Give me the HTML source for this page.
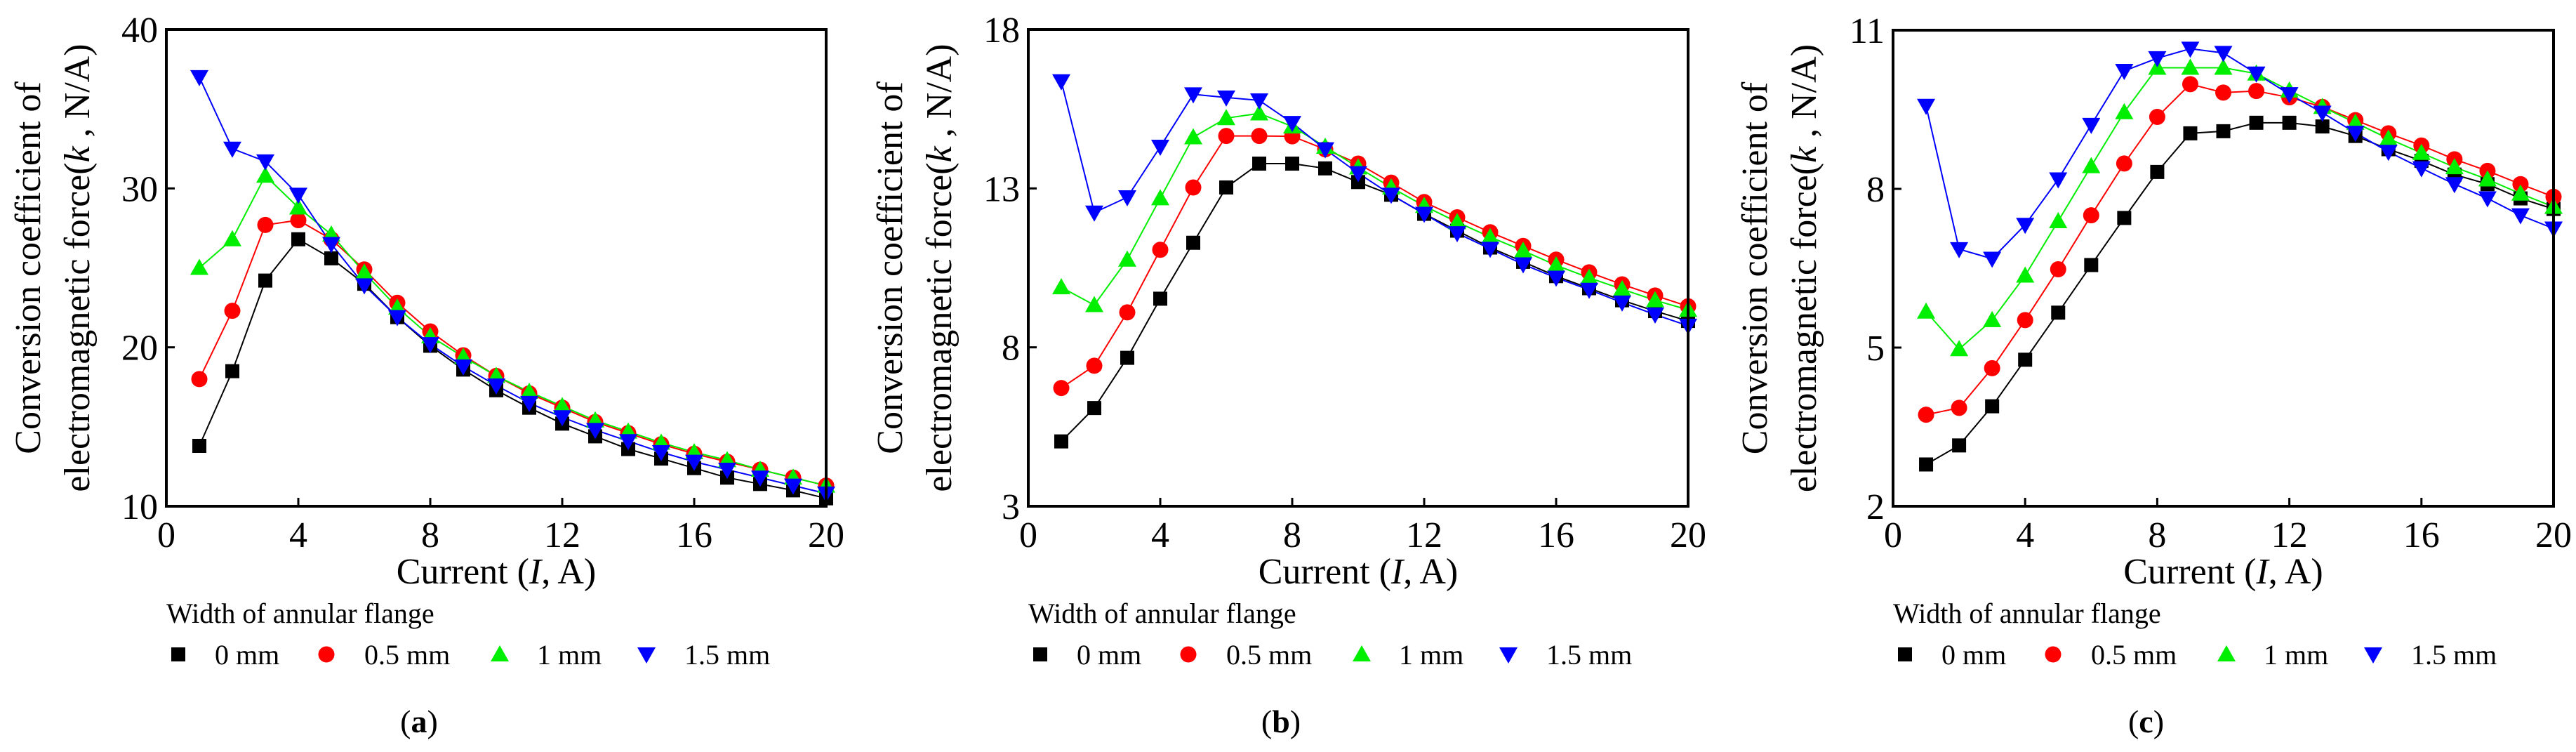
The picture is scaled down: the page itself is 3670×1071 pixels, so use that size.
<!DOCTYPE html>
<html><head><meta charset="utf-8">
<style>
html,body{margin:0;padding:0;background:#fff;}
svg{display:block;}
svg text{font-family:"Liberation Serif","Times New Roman",serif;}
</style></head>
<body>
<svg id="fig" width="3670" height="1071" viewBox="0 0 3670 1071" xmlns="http://www.w3.org/2000/svg" font-family="Liberation Serif, serif"></svg>
<script>
const xValues = [1,2,3,4,5,6,7,8,9,10,11,12,13,14,15,16,17,18,19,20];
const seriesNames = ["0 mm","0.5 mm","1 mm","1.5 mm"];
const xTickLabels = [0,4,8,12,16,20];

const aBlack = [13.8,18.5,24.2,26.8,25.6,24.0,21.9,20.1,18.6,17.3,16.2,15.2,14.4,13.6,13.0,12.4,11.8,11.4,11.0,10.5];
const aRed   = [18.0,22.3,27.7,28.0,26.8,24.9,22.8,21.0,19.5,18.2,17.1,16.2,15.3,14.6,13.9,13.3,12.8,12.3,11.8,11.3];
const aGreen = [25.0,26.8,30.8,28.8,27.1,24.7,22.5,20.7,19.4,18.2,17.2,16.3,15.4,14.7,14.0,13.4,12.9,12.3,11.8,11.3];
const aBlue  = [37.0,32.5,31.7,29.6,26.5,23.9,21.9,20.2,18.8,17.6,16.5,15.6,14.8,14.1,13.4,12.8,12.3,11.8,11.3,10.8];
const aYTicks = [10,20,30,40];

const bBlack = [5.04,6.09,7.67,9.53,11.29,13.03,13.78,13.78,13.63,13.2,12.8,12.2,11.67,11.14,10.69,10.24,9.86,9.48,9.14,8.83];
const bRed   = [6.72,7.42,9.1,11.07,13.03,14.65,14.65,14.64,14.23,13.78,13.18,12.57,12.09,11.62,11.19,10.76,10.36,9.98,9.63,9.29];
const bGreen = [9.89,9.33,10.76,12.69,14.61,15.21,15.36,14.95,14.31,13.66,13.03,12.45,11.94,11.47,11.04,10.58,10.19,9.83,9.48,9.18];
const bBlue  = [16.37,12.24,12.72,14.31,15.96,15.86,15.77,15.06,14.23,13.48,12.8,12.2,11.59,11.1,10.61,10.19,9.81,9.41,9.03,8.68];
const bYTicks = [3,8,13,18];

const cBlack = [2.79,3.15,3.89,4.77,5.66,6.56,7.45,8.32,9.05,9.09,9.25,9.25,9.18,9.0,8.75,8.53,8.27,8.09,7.82,7.62];
const cRed   = [3.73,3.86,4.61,5.52,6.48,7.5,8.48,9.36,9.98,9.82,9.85,9.73,9.55,9.3,9.05,8.82,8.56,8.34,8.09,7.85];
const cGreen = [5.68,4.97,5.52,6.36,7.39,8.43,9.45,10.29,10.29,10.29,10.18,9.86,9.55,9.25,8.95,8.68,8.41,8.18,7.91,7.66];
const cBlue  = [9.57,6.86,6.68,7.32,8.18,9.21,10.23,10.47,10.65,10.57,10.18,9.79,9.44,9.06,8.7,8.39,8.09,7.82,7.5,7.25];
const cYTicks = [2,5,8,11];

const NS="http://www.w3.org/2000/svg";
const svg=document.getElementById('fig');
const colors=["#000000","#ff0000","#00ee00","#0000ff"];
function mk(tag,attrs,parent){const e=document.createElementNS(NS,tag);for(const k in attrs)e.setAttribute(k,attrs[k]);(parent||svg).appendChild(e);return e;}
function marker(g,kind,x,y,col){
  let e;
  if(kind===0){e=mk('rect',{x:x-10,y:y-10,width:20,height:20,fill:col},g);}
  else if(kind===1){e=mk('circle',{cx:x,cy:y,r:11.5,fill:col},g);}
  else if(kind===2){e=mk('polygon',{points:`${x},${y-13} ${x-13},${y+10} ${x+13},${y+10}`,fill:col},g);}
  else {e=mk('polygon',{points:`${x},${y+13} ${x-13},${y-10} ${x+13},${y-10}`,fill:col},g);}
  return e;
}
const convAdj=110;
function panel(id,left,right,top,bottom,yTicks,series,letter){
  const g=mk('g',{});
  
  
  const ymin=yTicks[0],ymax=yTicks[yTicks.length-1];
  const sx=v=>left+(v-0)/(20-0)*(right-left);
  const sy=v=>bottom-(v-ymin)/(ymax-ymin)*(bottom-top);
  series.forEach((arr,si)=>{
    const sg=mk('g',{},g);
    
    
    const pts=arr.map((v,i)=>sx(xValues[i])+','+sy(v)).join(' ');
    const pl=mk('polyline',{points:pts,fill:'none',stroke:colors[si],'stroke-width':2},sg);
    
    
  });
  series.forEach((arr,si)=>{
    arr.forEach((v,i)=>{
      const m=marker(g,si,sx(xValues[i]),sy(v),colors[si]);
      
      
    });
  });
  const fr=mk('rect',{x:left,y:top,width:right-left,height:bottom-top,fill:'none',stroke:'#000','stroke-width':4},g);
  
  
  xTickLabels.forEach(t=>{
    const x=sx(t);
    mk('line',{x1:x,y1:bottom,x2:x,y2:bottom-12,stroke:'#000','stroke-width':3},g);
    const tx=mk('text',{x:x,y:bottom+58,'font-size':52,'text-anchor':'middle'},g);
    tx.textContent=t;
    
    
  });
  yTicks.forEach(t=>{
    const y=sy(t);
    mk('line',{x1:left,y1:y,x2:left+12,y2:y,stroke:'#000','stroke-width':3},g);
    const tx=mk('text',{x:left-12,y:y+18,'font-size':52,'text-anchor':'end'},g);
    tx.textContent=t;
    
    
  });
  const cx=(left+right)/2;
  const xt=mk('text',{x:cx,y:bottom+110,'font-size':52,'text-anchor':'middle'},g);
  xt.innerHTML='Current (<tspan font-style="italic">I</tspan>, A)';
  
  
  const cy=(top+bottom)/2;
  const y1=mk('text',{x:0,y:0,'font-size':52,'text-anchor':'middle',transform:`translate(${left-180},${cy}) rotate(-90)`},g);
  y1.textContent='Conversion coefficient of';
  
  
  const y2=mk('text',{x:0,y:0,'font-size':52,'text-anchor':'middle',transform:`translate(${left-110},${cy}) rotate(-90)`},g);
  y2.innerHTML='electromagnetic force(<tspan font-style="italic">k</tspan> , N/A)';
  
  
  const lt=mk('text',{x:left,y:887,'font-size':40},g);
  lt.textContent='Width of annular flange';
  
  
  const mOff=[17,228,475,684], tOff=[69,282,528,738];
  seriesNames.forEach((n,i)=>{
    const lg=mk('g',{},g);
    
    
    marker(lg,i,left+mOff[i],932,colors[i]);
    const t=mk('text',{x:left+tOff[i],y:946,'font-size':40},lg);
    t.textContent=n;
  });
  const pl=mk('text',{x:cx-convAdj,y:1043,'font-size':46,'text-anchor':'middle'},g);
  pl.innerHTML='(<tspan font-weight="bold">'+letter+'</tspan>)';
  
  
}
panel('a',237,1177,42,721,aYTicks,[aBlack,aRed,aGreen,aBlue],'a');
panel('b',1465,2405,42,721,bYTicks,[bBlack,bRed,bGreen,bBlue],'b');
panel('c',2697,3638,43,721,cYTicks,[cBlack,cRed,cGreen,cBlue],'c');
</script>
</body></html>
